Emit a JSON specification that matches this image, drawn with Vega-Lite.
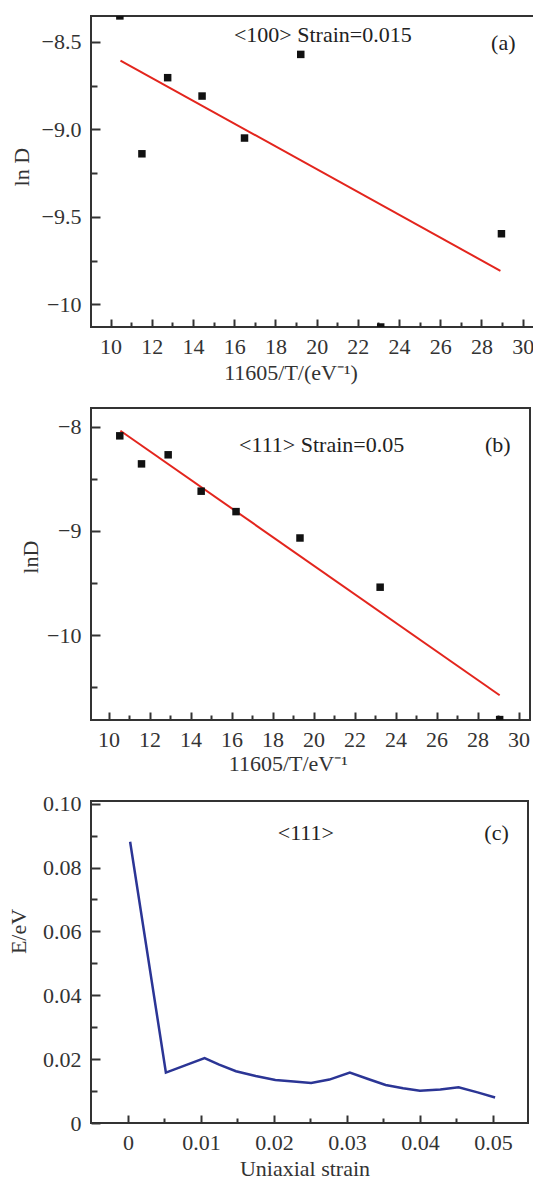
{
  "$schema": "https://vega.github.io/schema/vega-lite/v6.json",
  "background": "white",
  "padding": {"left": 6, "top": 15, "right": 0, "bottom": 0},
  "bounds": "flush",
  "spacing": 81,
  "config": {
    "font": "Liberation Serif",
    "view": {"stroke": "#333", "strokeWidth": 2},
    "axis": {
      "labelFont": "Liberation Serif", "labelFontSize": 22, "labelColor": "#333",
      "titleFont": "Liberation Serif", "titleFontSize": 22, "titleFontWeight": "normal", "titleColor": "#333",
      "grid": false, "domain": false, "tickColor": "#333", "tickWidth": 2
    },
    "text": {"font": "Liberation Serif", "fontSize": 22, "color": "#222"}
  },
  "datasets": {
    "a_points": [
      {"x": 10.45, "y": -8.352},
      {"x": 11.52, "y": -9.14},
      {"x": 12.77, "y": -8.705},
      {"x": 14.44, "y": -8.81},
      {"x": 16.5, "y": -9.05},
      {"x": 19.23, "y": -8.572},
      {"x": 23.11, "y": -10.13},
      {"x": 28.97, "y": -9.597}
    ],
    "a_fit": [
      {"x": 10.48, "y": -8.607},
      {"x": 28.92, "y": -9.809}
    ],
    "a_notes": [
      {"x": 20.30, "y": -8.459, "text": "<100> Strain=0.015"},
      {"x": 29.06, "y": -8.509, "text": "(a)"}
    ],
    "b_points": [
      {"x": 10.55, "y": -8.088},
      {"x": 11.61, "y": -8.357},
      {"x": 12.91, "y": -8.27},
      {"x": 14.52, "y": -8.619},
      {"x": 16.22, "y": -8.815},
      {"x": 19.34, "y": -9.068},
      {"x": 23.25, "y": -9.54},
      {"x": 29.08, "y": -10.81}
    ],
    "b_fit": [
      {"x": 10.58, "y": -8.039},
      {"x": 29.08, "y": -10.577}
    ],
    "b_notes": [
      {"x": 20.395, "y": -8.179, "text": "<111> Strain=0.05"},
      {"x": 28.99, "y": -8.179, "text": "(b)"}
    ],
    "c_curve": [
      {"x": 0.0003, "y": 0.0881},
      {"x": 0.0052, "y": 0.0158},
      {"x": 0.0105, "y": 0.0203},
      {"x": 0.0125, "y": 0.0183},
      {"x": 0.0148, "y": 0.0162},
      {"x": 0.0175, "y": 0.0147},
      {"x": 0.0202, "y": 0.0135},
      {"x": 0.0227, "y": 0.0130},
      {"x": 0.0251, "y": 0.0125},
      {"x": 0.0276, "y": 0.0136},
      {"x": 0.0304, "y": 0.0158},
      {"x": 0.0330, "y": 0.0137},
      {"x": 0.0353, "y": 0.0119},
      {"x": 0.0377, "y": 0.0109},
      {"x": 0.0400, "y": 0.0101},
      {"x": 0.0428, "y": 0.0105},
      {"x": 0.0453, "y": 0.0112},
      {"x": 0.0479, "y": 0.0096},
      {"x": 0.0503, "y": 0.0080}
    ],
    "c_notes": [
      {"x": 0.02437, "y": 0.0909, "text": "<111>"},
      {"x": 0.0505, "y": 0.0909, "text": "(c)"}
    ]
  },
  "vconcat": [
    {
      "width": 443,
      "height": 311,
      "resolve": {"axis": {"x": "independent", "y": "independent"}},
      "layer": [
        {
          "data": {"name": "a_fit"},
          "mark": {"type": "line", "color": "#e3251d", "strokeWidth": 2, "clip": true},
          "encoding": {
            "x": {"field": "x", "type": "quantitative",
              "scale": {"domain": [9.049, 30.55], "nice": false, "zero": false},
              "axis": {"orient": "bottom", "values": [10, 12, 14, 16, 18, 20, 22, 24, 26, 28, 30], "tickSize": -8, "labelPadding": 17,
                "title": "11605/T/(eV⁻¹)", "titleX": 199.5, "titleY": 45.5, "titleBaseline": "middle", "titleAlign": "center", "titleAngle": 0}},
            "y": {"field": "y", "type": "quantitative",
              "scale": {"domain": [-10.13, -8.3525], "nice": false, "zero": false},
              "axis": {"orient": "left", "values": [-8.5, -9, -9.5, -10], "tickSize": -9, "labelPadding": 19,
                "labelExpr": "datum.value === -10 ? '−10' : format(datum.value, '.1f')",
                "title": "ln D", "titleX": -70, "titleY": 150.7, "titleAngle": -90, "titleBaseline": "middle", "titleAlign": "center"}}
          }
        },
        {
          "data": {"name": "a_points"},
          "mark": {"type": "square", "size": 56, "color": "#111", "opacity": 1, "clip": true},
          "encoding": {
            "x": {"field": "x", "type": "quantitative",
              "scale": {"domain": [9.049, 30.55], "nice": false, "zero": false},
              "axis": {"orient": "bottom", "values": [11, 13, 15, 17, 19, 21, 23, 25, 27, 29], "tickSize": -5, "labels": false, "title": null}},
            "y": {"field": "y", "type": "quantitative",
              "scale": {"domain": [-10.13, -8.3525], "nice": false, "zero": false},
              "axis": {"orient": "left", "values": [-8.75, -9.25, -9.75], "tickSize": -6, "labels": false, "title": null}}
          }
        },
        {
          "data": {"name": "a_notes"},
          "mark": {"type": "text", "align": "center", "baseline": "middle"},
          "encoding": {
            "x": {"field": "x", "type": "quantitative", "scale": {"domain": [9.049, 30.55], "nice": false, "zero": false}, "axis": null},
            "y": {"field": "y", "type": "quantitative", "scale": {"domain": [-10.13, -8.3525], "nice": false, "zero": false}, "axis": null},
            "text": {"field": "text"}
          }
        }
      ]
    },
    {
      "width": 439,
      "height": 312,
      "resolve": {"axis": {"x": "independent", "y": "independent"}},
      "layer": [
        {
          "data": {"name": "b_fit"},
          "mark": {"type": "line", "color": "#e3251d", "strokeWidth": 2, "clip": true},
          "encoding": {
            "x": {"field": "x", "type": "quantitative",
              "scale": {"domain": [9.146, 30.56], "nice": false, "zero": false},
              "axis": {"orient": "bottom", "values": [10, 12, 14, 16, 18, 20, 22, 24, 26, 28, 30], "tickSize": -8, "labelPadding": 17,
                "title": "11605/T/eV⁻¹", "titleX": 196.8, "titleY": 43.7, "titleBaseline": "middle", "titleAlign": "center", "titleAngle": 0}},
            "y": {"field": "y", "type": "quantitative",
              "scale": {"domain": [-10.814, -7.821], "nice": false, "zero": false},
              "axis": {"orient": "left", "values": [-8, -9, -10], "tickSize": -9, "labelPadding": 19,
                "title": "lnD", "titleX": -60.7, "titleY": 148.7, "titleAngle": -90, "titleBaseline": "middle", "titleAlign": "center"}}
          }
        },
        {
          "data": {"name": "b_points"},
          "mark": {"type": "square", "size": 56, "color": "#111", "opacity": 1, "clip": true},
          "encoding": {
            "x": {"field": "x", "type": "quantitative",
              "scale": {"domain": [9.146, 30.56], "nice": false, "zero": false},
              "axis": {"orient": "bottom", "values": [11, 13, 15, 17, 19, 21, 23, 25, 27, 29], "tickSize": -5, "labels": false, "title": null}},
            "y": {"field": "y", "type": "quantitative",
              "scale": {"domain": [-10.814, -7.821], "nice": false, "zero": false},
              "axis": {"orient": "left", "values": [-8.5, -9.5, -10.5], "tickSize": -6, "labels": false, "title": null}}
          }
        },
        {
          "data": {"name": "b_notes"},
          "mark": {"type": "text", "align": "center", "baseline": "middle"},
          "encoding": {
            "x": {"field": "x", "type": "quantitative", "scale": {"domain": [9.146, 30.56], "nice": false, "zero": false}, "axis": null},
            "y": {"field": "y", "type": "quantitative", "scale": {"domain": [-10.814, -7.821], "nice": false, "zero": false}, "axis": null},
            "text": {"field": "text"}
          }
        }
      ]
    },
    {
      "width": 437,
      "height": 322,
      "resolve": {"axis": {"x": "independent", "y": "independent"}},
      "layer": [
        {
          "data": {"name": "c_curve"},
          "mark": {"type": "line", "color": "#2b3595", "strokeWidth": 2.5, "clip": true},
          "encoding": {
            "x": {"field": "x", "type": "quantitative",
              "scale": {"domain": [-0.00506, 0.05481], "nice": false, "zero": false},
              "axis": {"orient": "bottom", "values": [0, 0.01, 0.02, 0.03, 0.04, 0.05], "tickSize": -8, "labelPadding": 17,
                "labelExpr": "datum.value === 0 ? '0' : format(datum.value, '.2f')",
                "title": "Uniaxial strain", "titleX": 213.5, "titleY": 45, "titleBaseline": "middle", "titleAlign": "center", "titleAngle": 0}},
            "y": {"field": "y", "type": "quantitative",
              "scale": {"domain": [0, 0.10085], "nice": false, "zero": false},
              "axis": {"orient": "left", "values": [0, 0.02, 0.04, 0.06, 0.08, 0.1], "tickSize": -9, "labelPadding": 19,
                "labelExpr": "datum.value === 0 ? '0' : format(datum.value, '.2f')",
                "title": "E/eV", "titleX": -72.6, "titleY": 130, "titleAngle": -90, "titleBaseline": "middle", "titleAlign": "center"}}
          }
        },
        {
          "data": {"name": "c_notes"},
          "mark": {"type": "text", "align": "center", "baseline": "middle"},
          "encoding": {
            "x": {"field": "x", "type": "quantitative",
              "scale": {"domain": [-0.00506, 0.05481], "nice": false, "zero": false},
              "axis": {"orient": "bottom", "values": [0.005, 0.015, 0.025, 0.035, 0.045], "tickSize": -5, "labels": false, "title": null}},
            "y": {"field": "y", "type": "quantitative",
              "scale": {"domain": [0, 0.10085], "nice": false, "zero": false},
              "axis": {"orient": "left", "values": [0.01, 0.03, 0.05, 0.07, 0.09], "tickSize": -6, "labels": false, "title": null}},
            "text": {"field": "text"}
          }
        }
      ]
    }
  ]
}
